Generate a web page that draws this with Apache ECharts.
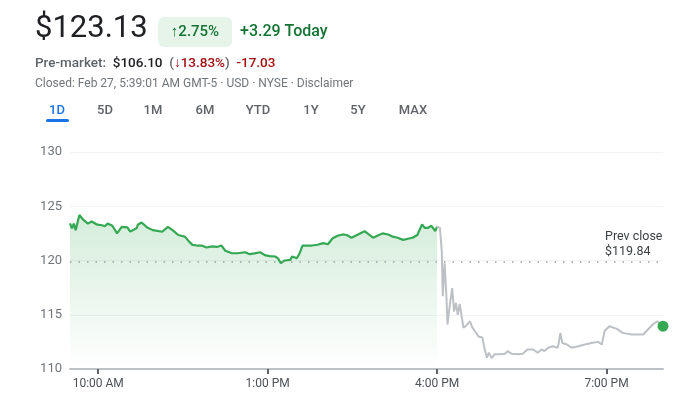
<!DOCTYPE html>
<html>
<head>
<meta charset="utf-8">
<script src="https://cdn.jsdelivr.net/npm/echarts@6/dist/echarts.min.js"></script>
<style>
  html, body { margin: 0; padding: 0; background: #fff; }
  #main { width: 700px; height: 399px; }
</style>
</head>
<body>
<div id="main"></div>
<script>
// minutes since midnight, regular session 9:30 - 16:00
const regTimes = [570, 572, 574, 576, 580, 584, 589, 593, 599, 604, 607, 610, 615, 620, 625, 631, 634, 641, 642, 646,
  652, 658, 668, 674, 679, 685, 692, 696, 700, 705, 710, 715, 721, 726, 731, 735, 742, 748, 756, 761,
  766, 772, 777, 782, 788, 791, 794, 798, 804, 806, 811, 814, 817, 823, 827, 833, 839, 844, 849, 855,
  860, 864, 869, 876, 883, 886, 892, 897, 902, 908, 913, 918, 924, 929, 934, 939, 944, 947, 950, 954, 958, 960]
const regPrices = [123.42, 122.96, 123.4, 122.8, 124.2, 123.76, 123.4, 123.6, 123.3, 123.25, 123.15, 123.4, 123.2, 122.5, 123.1, 123.05, 122.66, 123.0, 123.3, 123.5,
  123.05, 122.8, 122.65, 123.1, 122.8, 122.35, 122.2, 121.8, 121.44, 121.38, 121.38, 121.2, 121.3, 121.25, 121.38, 120.9, 120.67, 120.67, 120.76, 120.58,
  120.65, 120.76, 120.5, 120.4, 120.37, 120.2, 119.75, 120.0, 120.06, 120.37, 120.2, 120.67, 121.38, 121.38, 121.38, 121.45, 121.6, 121.5, 122.05, 122.3,
  122.4, 122.35, 122.1, 122.4, 122.7, 122.5, 122.1, 122.3, 122.5, 122.4, 122.2, 122.1, 121.9, 122.0, 122.1, 122.35, 123.33, 123.0, 123.0, 123.2, 122.7, 123.13]

// after hours 16:00 - 20:00
const ahTimes = [960, 963, 965, 966, 968, 970, 971, 974, 976, 978, 980, 982, 984, 986, 988, 991, 995, 997, 1000, 1004,
  1008, 1011, 1013, 1015, 1018, 1021, 1027, 1032, 1035, 1039, 1045, 1051, 1056, 1062, 1067, 1071, 1074, 1078, 1083, 1088,
  1089, 1091, 1093, 1098, 1103, 1110, 1117, 1124, 1131, 1135, 1138, 1143, 1151, 1157, 1167, 1179, 1184, 1189, 1194, 1200]
const ahPrices = [123.13, 123.0, 120.8, 116.7, 119.75, 116.5, 114.1, 116.2, 117.45, 115.3, 116.1, 115.0, 116.0, 115.9, 113.8, 114.0, 114.4, 113.9, 113.5, 113.0,
  112.9, 111.65, 111.04, 111.5, 111.0, 111.35, 111.35, 111.4, 111.65, 111.4, 111.35, 111.4, 111.8, 111.8, 111.5, 111.8, 111.65, 111.96, 112.1, 111.95,
  112.3, 113.33, 112.4, 112.26, 111.96, 112.1, 112.26, 112.4, 112.5, 112.26, 113.5, 113.94, 113.7, 113.33, 113.18, 113.18, 113.64, 114.1, 114.4, 113.95]

const prevClose = 119.84
const xTicks = [600, 780, 960, 1140]
const xTickLabels = ['10:00 AM', '1:00 PM', '4:00 PM', '7:00 PM']
const tabs = ['1D', '5D', '1M', '6M', 'YTD', '1Y', '5Y', 'MAX']
const tabX = [57, 105, 153, 205, 258, 311, 358, 413]

const zip = (a, b) => a.map((t, i) => [t, b[i]])
const lastPoint = [ahTimes[ahTimes.length - 1], ahPrices[ahPrices.length - 1]]

const font = 'Roboto, Arial, sans-serif'
const header = [
  { type: 'text', left: 35, top: 14, style: { text: '$123.13', font: '400 31px ' + font, fill: '#202124' } },
  { type: 'rect', shape: { x: 158, y: 17, width: 74, height: 30, r: 6 }, style: { fill: '#e6f4ea' } },
  { type: 'text', x: 195, y: 32, style: { text: '↑2.75%', font: '500 15px ' + font, fill: '#137333', align: 'center', verticalAlign: 'middle' } },
  { type: 'text', x: 240, y: 32, style: { text: '+3.29 Today', font: '500 16px ' + font, fill: '#137333', verticalAlign: 'middle' } },
  {
    type: 'text', x: 35, y: 64,
    style: {
      text: '{a|Pre-market:}  {b|$106.10}  {a|(}{r|↓13.83%}{a|)}  {r|-17.03}',
      verticalAlign: 'middle',
      rich: {
        a: { font: '500 13.5px ' + font, fill: '#5f6368' },
        b: { font: '500 13.5px ' + font, fill: '#202124' },
        r: { font: '500 13.5px ' + font, fill: '#a50e0e' }
      }
    }
  },
  { type: 'text', x: 35, y: 84, style: { text: 'Closed: Feb 27, 5:39:01 AM GMT-5 · USD · NYSE · Disclaimer', font: '12px ' + font, fill: '#70757a', verticalAlign: 'middle' } },
  { type: 'rect', shape: { x: 46, y: 119, width: 23, height: 3, r: 1.5 }, style: { fill: '#1a73e8' } }
]
tabs.forEach((t, i) => {
  header.push({
    type: 'text', x: tabX[i], y: 111,
    style: { text: t, font: '500 13px ' + font, fill: i === 0 ? '#1a73e8' : '#5f6368', align: 'center', verticalAlign: 'middle' }
  })
})

const chart = echarts.init(document.getElementById('main'))
chart.setOption({
  animation: false,
  graphic: header,
  grid: { left: 70, right: 37, top: 152, bottom: 30 },
  xAxis: {
    type: 'value',
    min: 570,
    max: 1200,
    splitLine: { show: false },
    axisLine: { lineStyle: { color: '#bdc1c6', width: 2 } },
    axisTick: { customValues: xTicks, length: 5, lineStyle: { color: '#5f6368', width: 2 } },
    axisLabel: {
      customValues: xTicks,
      formatter: v => xTickLabels[xTicks.indexOf(v)],
      color: '#4d5156', fontSize: 12, fontFamily: font, margin: 9
    }
  },
  yAxis: {
    type: 'value',
    min: 110,
    max: 130,
    interval: 5,
    axisLine: { show: false },
    axisTick: { show: false },
    axisLabel: { color: '#70757a', fontSize: 13, fontFamily: font, margin: 8 },
    splitLine: { lineStyle: { color: '#f1f3f4', width: 1 } }
  },
  series: [
    {
      type: 'line',
      data: zip(regTimes, regPrices),
      showSymbol: false,
      lineStyle: { color: '#34a853', width: 2.2 },
      areaStyle: {
        color: new echarts.graphic.LinearGradient(0, 0, 0, 1, [
          { offset: 0, color: 'rgba(52,168,83,0.3)' },
          { offset: 1, color: 'rgba(52,168,83,0.0)' }
        ])
      },
      markLine: {
        silent: true,
        symbol: 'none',
        lineStyle: { color: '#9aa0a6', type: [1.5, 7], width: 1.5 },
        label: {
          position: 'insideEndTop',
          formatter: '{a|Prev close}\n{a|$' + prevClose.toFixed(2) + '}',
          rich: { a: { color: '#3c4043', fontSize: 12.5, fontFamily: font, width: 58, align: 'left', lineHeight: 15 } },
          distance: [0, 3]
        },
        data: [{ yAxis: prevClose }]
      }
    },
    {
      type: 'line',
      data: zip(ahTimes, ahPrices),
      showSymbol: false,
      lineStyle: { color: '#bdc1c6', width: 2 }
    },
    {
      type: 'scatter',
      data: [lastPoint],
      symbolSize: 11,
      clip: false,
      z: 10,
      itemStyle: { color: '#34a853', opacity: 1 }
    }
  ]
})
</script>
</body>
</html>
